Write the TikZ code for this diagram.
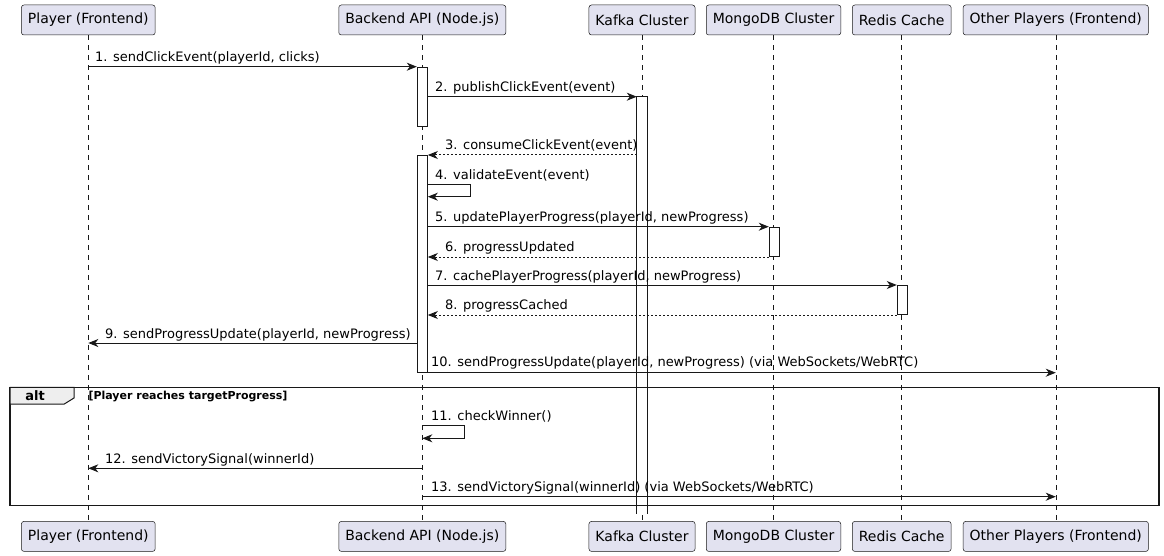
\documentclass[tikz,border=0pt]{standalone}
\usepackage{fontspec}
\setmainfont{DejaVu Sans}
\usetikzlibrary{arrows.meta,calc}
\definecolor{ln}{HTML}{181818}
\definecolor{pfill}{HTML}{E2E2F0}
\definecolor{gfill}{HTML}{EEEEEE}
\begin{document}
\begin{tikzpicture}[x=1pt,y=-1pt,
  part/.style={draw=ln, fill=pfill, rounded corners=2.5pt, line width=0.5pt, minimum height=30pt, inner xsep=6.5pt, font=\fontsize{14}{16}\selectfont},
  life/.style={draw=ln, line width=0.5pt, dash pattern=on 5pt off 5pt},
  actbox/.style={draw=ln, fill=white, line width=1pt, minimum width=10pt, inner sep=0pt, anchor=north},
  msg/.style={draw=ln, line width=1pt, -{Stealth[length=10pt,width=8pt,inset=3pt]}},
  ret/.style={msg, dash pattern=on 2pt off 2pt},
  lbl/.style={anchor=base west, inner sep=0pt, font=\fontsize{13}{15}\selectfont},
  altbox/.style={draw=ln, line width=1.5pt},
]
\useasboundingbox (0,0) rectangle (1164,556);

% participants (top)
\node[part] (p1) at (88.3,20) {Player (Frontend)};
\node[part] (p2) at (422.3,20) {Backend API (Node.js)};
\node[part] (p3) at (642,20) {Kafka Cluster};
\node[part] (p4) at (773.5,20) {MongoDB Cluster};
\node[part] (p5) at (901.7,20) {Redis Cache};
\node[part] (p6) at (1055.8,20) {Other Players (Frontend)};
% participants (bottom)
\node[part] (q1) at (88.3,536.4) {Player (Frontend)};
\node[part] (q2) at (422.3,536.4) {Backend API (Node.js)};
\node[part] (q3) at (642,536.4) {Kafka Cluster};
\node[part] (q4) at (773.5,536.4) {MongoDB Cluster};
\node[part] (q5) at (901.7,536.4) {Redis Cache};
\node[part] (q6) at (1055.8,536.4) {Other Players (Frontend)};

% lifelines
\foreach \i in {1,...,6} \draw[life] (p\i.south) -- (q\i.north);

% activations
\node[actbox, minimum height=59.3pt] (a1) at (422.3,66.7) {};
\node[actbox, draw=none, minimum height=416pt] (ak) at (642.3,96.7) {};
\draw[draw=ln, line width=1pt] (ak.south west) -- (ak.north west) -- (ak.north east) -- (ak.south east);
\node[actbox, minimum height=216.7pt] (a2) at (422.3,155) {};
\node[actbox, minimum height=29.3pt] (am) at (774.3,226.7) {};
\node[actbox, minimum height=29pt] (ar) at (902.3,285) {};

% alt group
\draw[altbox] (10,387.3) rectangle (1159,505.7);
\draw[draw=ln, fill=gfill, line width=1pt] (10,387.3) -- (74,387.3) -- (74,398) -- (64.3,404) -- (10,404) -- cycle;
\node[anchor=base, inner sep=0pt, font=\bfseries\fontsize{13}{15}\selectfont] (altlbl) at (35,400.5) {alt};
\node[anchor=base west, inner sep=0pt, font=\bfseries\fontsize{11}{13}\selectfont] (altcond) at (88.3,399.5) {[Player reaches targetProgress]};

% row coordinates
\coordinate (r4a) at (0,184.3);
\coordinate (r4b) at (0,196.7);
\coordinate (r9) at (0,343);
\coordinate (r11a) at (0,425.7);
\coordinate (r11b) at (0,438.3);
\coordinate (r12) at (0,468.3);
\coordinate (r13) at (0,496.7);

% messages
\draw[msg] (p1.south |- a1.north) -- (a1.north west);
\draw[msg] (a1.east |- ak.north) -- (ak.north west);
\draw[ret] (ak.west |- a2.north) -- (a2.north east);
\draw[msg] (a2.east |- r4a) -- ++(42.3,0) -- ++(0,12.4) -- (a2.east |- r4b);
\draw[msg] (a2.east |- am.north) -- (am.north west);
\draw[ret] (am.south west) -- (a2.east |- am.south);
\draw[msg] (a2.east |- ar.north) -- (ar.north west);
\draw[ret] (ar.south west) -- (a2.east |- ar.south);
\draw[msg] (a2.west |- r9) -- (p1.south |- r9);
\draw[msg] (a2.south east) -- (p6.south |- a2.south);
\draw[msg] (p2.south |- r11a) -- ++(42,0) -- ++(0,12.6) -- (p2.south |- r11b);
\draw[msg] (p2.south |- r12) -- (p1.south |- r12);
\draw[msg] (p2.south |- r13) -- (p6.south |- r13);

% labels
\node[lbl] (m1) at (95,62) {1. sendClickEvent(playerId, clicks)};
\node[lbl] (m2) at (435,91.7) {2. publishClickEvent(event)};
\node[lbl] (m3) at (445,150) {3. consumeClickEvent(event)};
\node[lbl] (m4) at (435,179.3) {4. validateEvent(event)};
\node[lbl] (m5) at (435,221.7) {5. updatePlayerProgress(playerId, newProgress)};
\node[lbl] (m6) at (445,251) {6. progressUpdated};
\node[lbl] (m7) at (435,280) {7. cachePlayerProgress(playerId, newProgress)};
\node[lbl] (m8) at (445,309) {8. progressCached};
\node[lbl] (m9) at (105,338) {9. sendProgressUpdate(playerId, newProgress)};
\node[lbl] (m10) at (431,366.7) {10. sendProgressUpdate(playerId, newProgress) (via WebSockets/WebRTC)};
\node[lbl] (m11) at (431,420.7) {11. checkWinner()};
\node[lbl] (m12) at (105,463.3) {12. sendVictorySignal(winnerId)};
\node[lbl] (m13) at (431,491.7) {13. sendVictorySignal(winnerId) (via WebSockets/WebRTC)};
\end{tikzpicture}
\end{document}
